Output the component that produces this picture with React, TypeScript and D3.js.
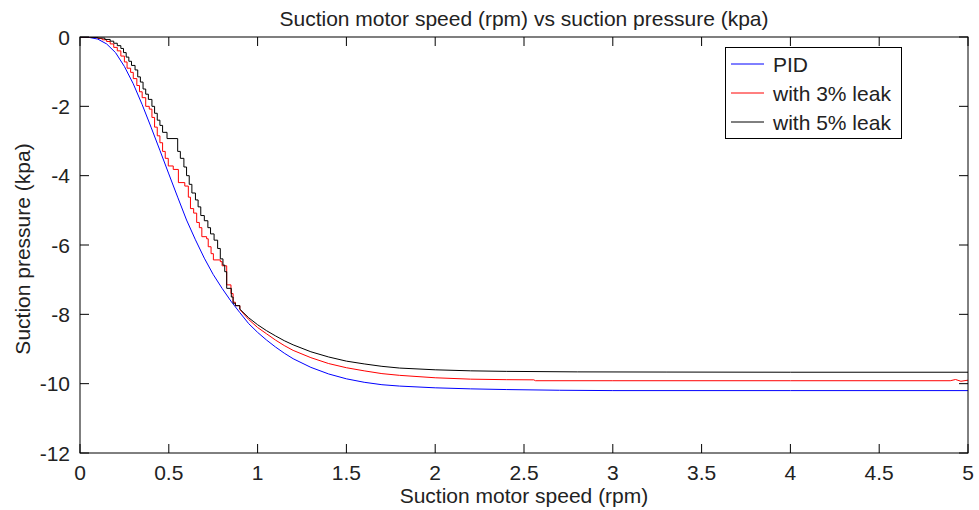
import React from "react";
import * as d3 from "d3";

const TITLE = "Suction motor speed (rpm) vs suction pressure (kpa)";
const X_LABEL = "Suction motor speed (rpm)";
const Y_LABEL = "Suction pressure (kpa)";
const X_TICKS = [0, 0.5, 1, 1.5, 2, 2.5, 3, 3.5, 4, 4.5, 5];
const Y_TICKS = [0, -2, -4, -6, -8, -10, -12];
const SERIES_NAMES = ["PID", "with 3% leak", "with 5% leak"];
const SERIES_COLORS = ["#0000ff", "#ff0000", "#000000"];

// PID (smooth)
const pidX = [0, 0.05, 0.1, 0.15, 0.2, 0.25, 0.3, 0.35, 0.4, 0.45, 0.5, 0.55, 0.6, 0.65, 0.7, 0.75, 0.8, 0.85, 0.9, 0.95, 1.0, 1.05, 1.1, 1.15, 1.2, 1.3, 1.4, 1.5, 1.6, 1.7, 1.8, 2.0, 2.2, 2.4, 2.7, 3.0, 4.0, 5.0];
const pidY = [0, -0.01, -0.06, -0.2, -0.45, -0.85, -1.35, -1.95, -2.6, -3.27, -3.95, -4.62, -5.28, -5.85, -6.38, -6.85, -7.25, -7.62, -7.95, -8.27, -8.52, -8.74, -8.94, -9.12, -9.28, -9.53, -9.72, -9.86, -9.96, -10.03, -10.07, -10.12, -10.15, -10.17, -10.19, -10.2, -10.2, -10.2];

// 3% leak: staircase part (x where each level starts, level)
const leak3StepX = [0, 0.07, 0.1, 0.125, 0.15, 0.17, 0.19, 0.21, 0.23, 0.25, 0.265, 0.285, 0.3, 0.32, 0.335, 0.35, 0.37, 0.39, 0.405, 0.42, 0.435, 0.45, 0.465, 0.48, 0.497, 0.525, 0.554, 0.59, 0.61, 0.622, 0.64, 0.657, 0.672, 0.686, 0.713, 0.722, 0.738, 0.751, 0.79, 0.8, 0.826, 0.85, 0.862, 0.875];
const leak3StepY = [0, -0.01, -0.04, -0.08, -0.13, -0.2, -0.3, -0.4, -0.55, -0.72, -0.9, -1.02, -1.2, -1.4, -1.58, -1.75, -2.0, -2.08, -2.32, -2.6, -2.85, -3.05, -3.3, -3.5, -3.72, -3.82, -4.2, -4.3, -4.62, -4.95, -5.08, -5.35, -5.5, -5.76, -5.82, -6.05, -6.25, -6.43, -6.48, -6.6, -7.15, -7.4, -7.65, -7.75];
// 3% leak: smooth tail
const leak3TailX = [0.9, 0.95, 1.0, 1.05, 1.1, 1.15, 1.2, 1.3, 1.4, 1.5, 1.6, 1.7, 1.8, 2.0, 2.2, 2.4, 2.555, 2.565, 3.0, 4.0, 4.9, 4.93, 4.96, 5.0];
const leak3TailY = [-7.86, -8.15, -8.38, -8.56, -8.74, -8.9, -9.04, -9.25, -9.42, -9.54, -9.63, -9.71, -9.76, -9.83, -9.87, -9.885, -9.89, -9.915, -9.915, -9.915, -9.915, -9.88, -9.93, -9.9];

// 5% leak: staircase part
const leak5StepX = [0, 0.06, 0.1, 0.14, 0.17, 0.19, 0.21, 0.23, 0.245, 0.26, 0.275, 0.29, 0.31, 0.325, 0.34, 0.355, 0.37, 0.385, 0.405, 0.42, 0.435, 0.45, 0.465, 0.49, 0.55, 0.565, 0.585, 0.6, 0.615, 0.63, 0.65, 0.665, 0.68, 0.7, 0.72, 0.735, 0.755, 0.775, 0.79, 0.805, 0.815, 0.826, 0.852, 0.862, 0.875];
const leak5StepY = [0, -0.01, -0.03, -0.07, -0.12, -0.18, -0.25, -0.33, -0.45, -0.58, -0.7, -0.82, -0.95, -1.15, -1.3, -1.5, -1.65, -1.8, -2.0, -2.2, -2.4, -2.55, -2.75, -2.93, -3.3, -3.5, -3.75, -4.0, -4.25, -4.5, -4.7, -4.9, -5.15, -5.3, -5.5, -5.68, -5.86, -6.1, -6.4, -6.58, -6.77, -7.25, -7.5, -7.68, -7.75];
// 5% leak: tail
const leak5TailX = [0.9, 0.95, 1.0, 1.05, 1.1, 1.15, 1.2, 1.3, 1.4, 1.5, 1.6, 1.7, 1.8, 2.0, 2.2, 2.4, 2.8, 3.3, 4.0, 5.0];
const leak5TailY = [-7.85, -8.1, -8.3, -8.47, -8.62, -8.76, -8.88, -9.08, -9.23, -9.35, -9.43, -9.5, -9.55, -9.6, -9.63, -9.645, -9.66, -9.665, -9.67, -9.67];

const W = 979;
const H = 510;
const L = 80, R = 968, T = 37, B = 453;
const FONT = "'Liberation Sans', Arial, Helvetica, sans-serif";

export default function App() {
  const x = d3.scaleLinear().domain([0, 5]).range([L, R]);
  const y = d3.scaleLinear().domain([-12, 0]).range([B, T]);

  const zip = (xs: number[], ys: number[]) => xs.map((v, i) => [v, ys[i]] as [number, number]);
  const lin = d3.line<[number, number]>().x((d) => x(d[0])).y((d) => y(d[1]));
  const step = d3.line<[number, number]>().x((d) => x(d[0])).y((d) => y(d[1])).curve(d3.curveStepAfter);

  const pidPath = lin(zip(pidX, pidY)) || "";
  const l3Steps = zip(leak3StepX, leak3StepY).concat([[leak3TailX[0], leak3StepY[leak3StepY.length - 1]]]);
  const l5Steps = zip(leak5StepX, leak5StepY).concat([[leak5TailX[0], leak5StepY[leak5StepY.length - 1]]]);
  const l3Path = (step(l3Steps) || "") + (lin([[leak3TailX[0], leak3StepY[leak3StepY.length - 1]] as [number, number]].concat(zip(leak3TailX, leak3TailY))) || "");
  const l5Path = (step(l5Steps) || "") + (lin([[leak5TailX[0], leak5StepY[leak5StepY.length - 1]] as [number, number]].concat(zip(leak5TailX, leak5TailY))) || "");
  const paths = [pidPath, l3Path, l5Path];

  const tickLen = 9;
  const fs = 21;

  return (
    <svg width={W} height={H} style={{ position: "absolute", left: 0, top: 0, background: "#fff" }} fontFamily={FONT}>
      <rect x={0} y={0} width={W} height={H} fill="#fff" />
      <defs>
        <clipPath id="plotclip">
          <rect x={L} y={T} width={R - L} height={B - T} />
        </clipPath>
      </defs>
      <g clipPath="url(#plotclip)" fill="none" strokeWidth={1}>
        {paths.map((p, i) => (
          <path key={i} d={p} stroke={SERIES_COLORS[i]} strokeLinejoin="miter" />
        ))}
      </g>
      {/* frame */}
      <rect x={L} y={T} width={R - L} height={B - T} fill="none" stroke="#000" strokeWidth={1} />
      {X_TICKS.map((t) => (
        <g key={"x" + t}>
          <line x1={x(t)} x2={x(t)} y1={B} y2={B - tickLen} stroke="#000" />
          <line x1={x(t)} x2={x(t)} y1={T} y2={T + tickLen} stroke="#000" />
          <text x={x(t)} y={480} textAnchor="middle" fontSize={fs} fill="#222">{String(t)}</text>
        </g>
      ))}
      {Y_TICKS.map((t) => (
        <g key={"y" + t}>
          <line x1={L} x2={L + tickLen} y1={y(t)} y2={y(t)} stroke="#000" />
          <line x1={R} x2={R - tickLen} y1={y(t)} y2={y(t)} stroke="#000" />
          <text x={70} y={y(t)} dy="0.36em" textAnchor="end" fontSize={fs} fill="#222">{String(t)}</text>
        </g>
      ))}
      <text x={(L + R) / 2} y={26} textAnchor="middle" fontSize={fs} fill="#222">{TITLE}</text>
      <text x={(L + R) / 2} y={503} textAnchor="middle" fontSize={fs} fill="#222">{X_LABEL}</text>
      <text transform={`translate(30,${(T + B) / 2 + 4}) rotate(-90)`} textAnchor="middle" fontSize={fs} fill="#222">{Y_LABEL}</text>
      {/* legend */}
      <g>
        <rect x={725.5} y={47.5} width={176} height={91} fill="#fff" stroke="#000" strokeWidth={1} />
        {SERIES_NAMES.map((n, i) => (
          <g key={n}>
            <line x1={731} x2={764} y1={64 + i * 29} y2={64 + i * 29} stroke={SERIES_COLORS[i]} strokeWidth={1} />
            <text x={773} y={64 + i * 29} dy="0.36em" fontSize={fs} fill="#222">{n}</text>
          </g>
        ))}
      </g>
    </svg>
  );
}
